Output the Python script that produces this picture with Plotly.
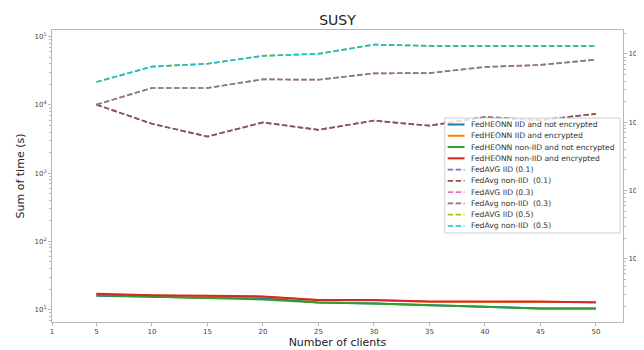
import plotly.graph_objects as go

# ---------------- data ----------------
clients = [5, 10, 15, 20, 25, 30, 35, 40, 45, 50]
x_tick_vals = [1, 5, 10, 15, 20, 25, 30, 35, 40, 45, 50]
left_exponents = [1, 2, 3, 4, 5]
right_exponents = [0, 1, 2, 3]

heonn_iid_plain = [15.9, 15.4, 14.9, 14.8, 12.7, 12.3, 11.6, 11.0, 10.4, 10.4]
heonn_iid_enc = [16.8, 16.0, 15.7, 15.4, 13.7, 13.7, 13.0, 13.0, 13.0, 12.9]
heonn_noniid_plain = [16.2, 15.6, 14.9, 14.1, 12.7, 12.3, 11.6, 11.0, 10.4, 10.4]
heonn_noniid_enc = [17.1, 16.2, 15.9, 15.6, 13.8, 13.8, 13.1, 13.1, 13.1, 12.7]

fedavg_iid_01 = [10100, 5290, 3440, 5530, 4310, 5880, 4960, 6640, 5970, 7410]
fedavg_noniid_01 = [10100, 5290, 3440, 5530, 4310, 5880, 4960, 6640, 5970, 7410]
fedavg_iid_03 = [10100, 17700, 17700, 23700, 23400, 29000, 29300, 36000, 38500, 46000]
fedavg_noniid_03 = [10100, 17700, 17700, 23700, 23400, 29000, 29300, 36000, 38500, 46000]
fedavg_iid_05 = [21700, 36400, 40100, 52500, 56000, 76500, 73300, 73300, 71800, 73300]
fedavg_noniid_05 = [21700, 36400, 40100, 52500, 56000, 76500, 73300, 73300, 71800, 73300]

series_names = [
    "FedHEONN IID and not encrypted",
    "FedHEONN IID and encrypted",
    "FedHEONN non-IID and not encrypted",
    "FedHEONN non-IID and encrypted",
    "FedAVG IID (0.1)",
    "FedAvg non-IID  (0.1)",
    "FedAVG IID (0.3)",
    "FedAvg non-IID  (0.3)",
    "FedAVG IID (0.5)",
    "FedAvg non-IID  (0.5)",
]
series_values = [
    heonn_iid_plain, heonn_iid_enc, heonn_noniid_plain, heonn_noniid_enc,
    fedavg_iid_01, fedavg_noniid_01, fedavg_iid_03, fedavg_noniid_03,
    fedavg_iid_05, fedavg_noniid_05,
]

# ---------------- styles ----------------
colors = ["#1f77b4", "#ff7f0e", "#2ca02c", "#d62728", "#9467bd",
          "#8c564b", "#e377c2", "#7f7f7f", "#bcbd22", "#17becf"]
DASH = "5.5px,2.5px"
dashes = ["solid"] * 4 + [DASH] * 6
FONT = "DejaVu Sans"

W, H = 644, 350
L, R, T, B = 34, 625, 22, 327  # plot area in px
PW, PH = R - L, B - T


def px_x(p):
    return (p - L) / PW


def px_y(p):
    return (B - p) / PH


def log_ticks(exps):
    vals = [10 ** e for e in exps]
    text = ["10<sup>%d</sup>" % e for e in exps]
    minor = [m * 10 ** e for e in range(exps[0] - 1, exps[-1] + 1) for m in range(2, 10)]
    return vals, text, minor


fig = go.Figure()
for name, vals, col, dsh in zip(series_names, series_values, colors, dashes):
    fig.add_trace(go.Scatter(
        x=clients, y=vals, name=name, mode="lines",
        line=dict(color=col, width=2 if dsh == "solid" else 1.7, dash=dsh),
        showlegend=False,
    ))

# empty trace to activate the secondary axis
fig.add_trace(go.Scatter(x=[], y=[], yaxis="y2", showlegend=False))

axis_line = "#b8b8b8"
tick_font = dict(family=FONT, size=7, color="#444")
lv, lt, lm = log_ticks(left_exponents)
rv, rt, rm = log_ticks(right_exponents)

fig.update_layout(
    width=W, height=H,
    margin=dict(l=L, r=W - R, t=T, b=H - B),
    paper_bgcolor="white", plot_bgcolor="white",
    font=dict(family=FONT, color="#333"),
    title=dict(text="SUSY", x=px_x(329.5), xref="paper", xanchor="center",
               y=1 - 12 / H, yanchor="middle",
               font=dict(family=FONT, size=14, color="#222")),
    xaxis=dict(
        range=[1, 52.44], tickvals=x_tick_vals, ticktext=[str(v) for v in x_tick_vals],
        ticks="outside", ticklen=3, tickcolor=axis_line, tickfont=tick_font,
        showline=True, linecolor=axis_line, mirror=True, showgrid=False, zeroline=False,
        title=dict(text="Number of clients", standoff=2,
                   font=dict(family=FONT, size=11, color="#222")),
    ),
    yaxis=dict(
        type="log", range=[0.818, 5.098], tickmode="array", tickvals=lv, ticktext=lt,
        ticks="outside", ticklen=3, tickcolor=axis_line, tickfont=tick_font,
        minor=dict(tickmode="array", tickvals=lm, ticks="outside", ticklen=2,
                   tickcolor=axis_line, showgrid=False),
        showline=True, linecolor=axis_line, mirror=True, showgrid=False, zeroline=False,
        title=dict(text="Sum of time (s)", standoff=7,
                   font=dict(family=FONT, size=11, color="#222")),
    ),
    yaxis2=dict(
        type="log", range=[-0.925, 3.35], tickmode="array", tickvals=rv, ticktext=rt,
        overlaying="y", side="right",
        ticks="outside", ticklen=3, tickcolor=axis_line, tickfont=tick_font,
        minor=dict(tickmode="array", tickvals=rm, ticks="outside", ticklen=2,
                   tickcolor=axis_line, showgrid=False),
        showline=False, showgrid=False, zeroline=False,
    ),
)

# right axis title (mostly cut off by the page edge)
fig.add_annotation(text="Wh", xref="paper", yref="paper", x=px_x(645), y=0.5,
                   xanchor="center", yanchor="middle", textangle=-90, showarrow=False,
                   font=dict(family=FONT, size=11, color="#222"))

# ---------------- legend (matplotlib-like compact box) ----------------
LEG_X0, LEG_X1, LEG_Y0, LEG_Y1 = 440.5, 622, 114, 234
ROW0, ROW_H = 120.7, 11.78
SAMPLE_X0, SAMPLE_X1, TEXT_X = 443.5, 461, 466

fig.add_shape(type="rect", xref="paper", yref="paper",
              x0=px_x(LEG_X0), x1=px_x(LEG_X1), y0=px_y(LEG_Y1), y1=px_y(LEG_Y0),
              fillcolor="rgba(255,255,255,0.8)", line=dict(color="#d0d0d0", width=1),
              layer="above")
for i, (name, col, dsh) in enumerate(zip(series_names, colors, dashes)):
    yc = px_y(ROW0 + i * ROW_H)
    fig.add_shape(type="line", xref="paper", yref="paper",
                  x0=px_x(SAMPLE_X0), x1=px_x(SAMPLE_X1), y0=yc, y1=yc,
                  line=dict(color=col, width=2 if dsh == "solid" else 1.7, dash=dsh),
                  layer="above")
    fig.add_annotation(text=name, xref="paper", yref="paper", x=px_x(TEXT_X), y=yc,
                       xanchor="left", yanchor="middle", showarrow=False,
                       font=dict(family=FONT, size=7.6, color="#333"))

fig.write_html("out.html")
